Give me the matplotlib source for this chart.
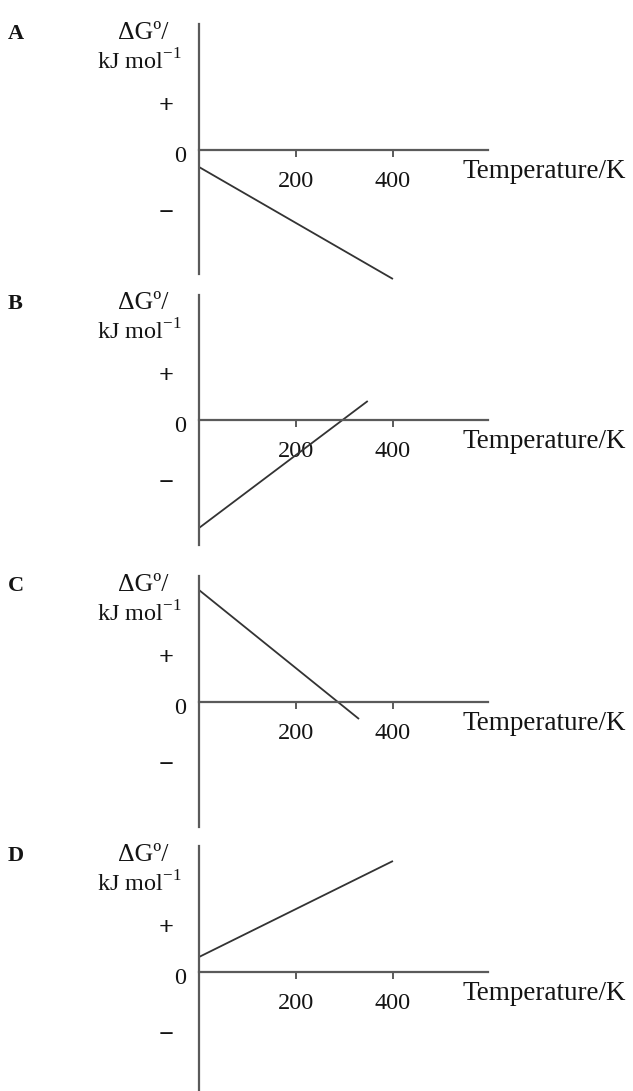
import matplotlib
matplotlib.use("Agg")
import matplotlib.pyplot as plt

plt.rcParams['font.family'] = ['Liberation Serif', 'DejaVu Serif']
plt.rcParams['mathtext.fontset'] = 'custom'
plt.rcParams['mathtext.rm'] = 'Liberation Serif'

# four sketch graphs of dG vs T (arbitrary dG units)
letters = ['A', 'B', 'C', 'D']
temps = [[0, 400], [0, 348], [0, 330], [0, 400]]
dG = [[-17, -129], [-108, 19], [112, -17], [15, 111]]
tick_vals = [200, 400]
tick_labels = ['200', '400']

# panel layout in pixels: top of axis, zero line, bottom of axis
tops = [24, 295, 576, 846]
zeros = [150, 420, 702, 972]
bottoms = [274, 545, 827, 1091]

W, H = 633, 1091
x0_px, x1_px = 199, 488
t_max = 596
PX = 0.72  # px -> points at dpi 100

txt_col = '#141414'
axis_col = '#5a5a5a'
line_col = '#333333'

fig = plt.figure(figsize=(W / 100, H / 100), dpi=100)

for i in range(4):
    ax = fig.add_axes([x0_px / W, 1 - bottoms[i] / H,
                       (x1_px - x0_px) / W, (bottoms[i] - tops[i]) / H])
    ax.set_xlim(0, t_max)
    ax.set_ylim(zeros[i] - bottoms[i], zeros[i] - tops[i])
    ax.patch.set_visible(False)

    for s in ['top', 'right']:
        ax.spines[s].set_visible(False)
    ax.spines['bottom'].set_position(('data', 0))
    ax.spines['left'].set_position(('data', 0))
    for s in ['bottom', 'left']:
        ax.spines[s].set_color(axis_col)
        ax.spines[s].set_linewidth(1.6)

    ax.set_xticks(tick_vals)
    ax.set_xticklabels(tick_labels)
    ax.tick_params(axis='x', direction='out', length=5, width=1.4,
                   color=axis_col, pad=10, labelsize=17.5, labelcolor=txt_col)
    ax.set_yticks([])

    ax.plot(temps[i], dG[i], color=line_col, lw=1.3, clip_on=False,
            solid_capstyle='butt')

    def note(s, dx, dy, ha, va, size=17, weight='normal'):
        ax.annotate(s, xy=(0, 0), xycoords='data',
                    xytext=(dx * PX, dy * PX), textcoords='offset points',
                    ha=ha, va=va, fontsize=size, color=txt_col,
                    fontweight=weight, annotation_clip=False)

    note(letters[i], -191, 111, 'left', 'baseline', 16, 'bold')
    note('ΔGº/', -31, 111, 'right', 'baseline', 18.5)
    note(r'kJ mol$^{\mathregular{-1}}$', -17, 81, 'right', 'baseline', 17.5)
    note('+', -33, 43, 'center', 'center', 19, 'bold')
    note('0', -19, -12, 'center', 'baseline', 17.5)
    note('−', -33, -63, 'center', 'center', 19, 'bold')
    note('Temperature/K', 264, -28, 'left', 'baseline', 19.5)

fig.savefig('out.png', dpi=100, facecolor='white')
